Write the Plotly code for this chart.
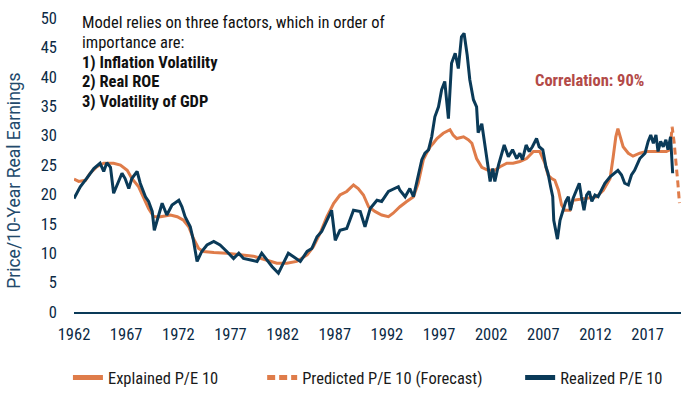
import plotly.graph_objects as go

# ---------------- data ----------------
realized_year = [
    1962.0, 1962.6, 1963.25, 1963.9, 1964.5, 1964.85, 1965.15, 1965.5, 1965.8, 1966.3,
    1966.6, 1966.9, 1967.25, 1967.55, 1968.05, 1968.35, 1968.85, 1969.15, 1969.5, 1969.7,
    1970.1, 1970.45, 1970.9, 1971.4, 1972.05, 1972.35, 1972.65, 1973.15, 1973.45, 1973.8,
    1974.25, 1974.75, 1975.4, 1976.0, 1976.65, 1977.3, 1977.8, 1978.25, 1979.05, 1979.55,
    1980.0, 1980.5, 1981.0, 1981.6, 1982.1, 1982.55, 1983.05, 1983.7, 1984.35, 1984.8,
    1985.3, 1985.75, 1986.25, 1986.7, 1987.05, 1987.5, 1988.15, 1988.8, 1989.45, 1989.9,
    1990.4, 1991.05, 1991.5, 1992.15, 1993.1, 1993.25, 1993.75, 1994.2, 1994.55, 1995.0,
    1995.35, 1995.65, 1996.0, 1996.3, 1996.6, 1996.95, 1997.25, 1997.55, 1997.9, 1998.2,
    1998.55, 1998.85, 1999.15, 1999.4, 1999.7, 1999.95, 2000.3, 2000.6, 2000.75, 2001.1,
    2001.4, 2001.7, 2001.9, 2002.15, 2002.35, 2002.7, 2003.25, 2003.65, 2004.05, 2004.45,
    2004.75, 2005.0, 2005.35, 2005.65, 2005.95, 2006.35, 2006.6, 2006.95, 2007.25, 2007.45,
    2007.7, 2007.9, 2008.0, 2008.2, 2008.35, 2008.6, 2008.85, 2009.15, 2009.4, 2009.6,
    2009.85, 2010.2, 2010.45, 2010.65, 2010.9, 2011.15, 2011.4, 2011.65, 2011.95, 2012.25,
    2012.6, 2012.9, 2013.4, 2013.85, 2014.15, 2014.5, 2014.8, 2015.15, 2015.45, 2015.75,
    2016.25, 2016.75, 2017.05, 2017.3, 2017.55, 2017.8, 2018.0, 2018.25, 2018.5, 2018.75,
    2018.95, 2019.2, 2019.4,
]
realized_pe = [
    19.3, 21.3, 22.8, 24.4, 25.3, 23.9, 25.4, 24.6, 20.2, 22.2,
    23.6, 22.7, 21.0, 22.7, 23.9, 21.9, 19.6, 18.8, 17.1, 13.9,
    16.2, 18.5, 16.5, 18.2, 19.0, 17.9, 16.2, 14.5, 12.2, 8.6,
    10.3, 11.4, 12.0, 11.4, 10.3, 9.1, 10.0, 9.1, 8.8, 8.6,
    10.0, 8.8, 7.7, 6.6, 8.3, 10.0, 9.4, 8.6, 10.3, 10.8,
    12.8, 13.7, 15.6, 17.3, 12.2, 13.9, 14.2, 17.3, 17.1, 14.5,
    17.6, 19.0, 18.8, 20.5, 21.3, 20.7, 19.6, 21.0, 19.6, 23.0,
    25.9, 27.0, 27.6, 29.8, 33.2, 34.9, 37.8, 39.2, 32.9, 42.3,
    44.0, 41.4, 46.8, 47.4, 43.7, 39.5, 36.1, 34.9, 30.5, 32.0,
    28.7, 24.7, 22.2, 24.4, 22.2, 25.0, 28.4, 26.4, 27.6, 26.1,
    27.0, 25.9, 28.4, 27.3, 28.1, 29.5, 28.1, 27.6, 24.7, 23.6,
    21.3, 19.6, 15.6, 13.4, 12.4, 15.6, 17.1, 18.8, 19.6, 17.3,
    19.3, 20.7, 21.9, 19.6, 17.3, 19.9, 20.5, 18.8, 19.9, 19.6,
    21.0, 21.9, 23.0, 23.6, 24.1, 23.3, 21.9, 21.6, 23.3, 24.1,
    26.1, 27.0, 29.0, 30.1, 28.7, 30.1, 27.3, 29.0, 28.1, 29.3,
    27.6, 29.8, 23.6,
]

explained_year = [
    1962.0, 1962.45, 1963.1, 1963.55, 1964.2, 1964.85, 1965.8, 1966.45, 1967.1, 1967.55,
    1968.2, 1968.7, 1969.15, 1969.65, 1970.3, 1971.25, 1971.9, 1972.5, 1973.0, 1973.45,
    1973.95, 1974.4, 1975.4, 1976.65, 1977.95, 1979.2, 1980.5, 1981.45, 1982.4, 1983.35,
    1984.35, 1984.95, 1985.6, 1986.25, 1986.9, 1987.5, 1988.15, 1988.8, 1989.25, 1989.75,
    1990.25, 1990.85, 1991.5, 1992.15, 1992.6, 1993.25, 1993.9, 1994.55, 1995.0, 1995.2,
    1995.5, 1995.8, 1996.15, 1996.45, 1996.8, 1997.4, 1997.9, 1998.05, 1998.35, 1998.7,
    1999.35, 1999.8, 2000.15, 2000.6, 2001.1, 2001.7, 2002.35, 2002.85, 2003.5, 2004.1,
    2004.75, 2005.4, 2006.05, 2006.65, 2007.15, 2007.45, 2007.8, 2008.1, 2008.45, 2008.75,
    2009.05, 2009.55, 2009.85, 2010.8, 2012.1, 2012.75, 2013.4, 2013.7, 2013.95, 2014.15,
    2014.4, 2014.65, 2015.15, 2015.6, 2016.25, 2016.9, 2017.85, 2018.8, 2019.15,
]
explained_pe = [
    22.6, 22.2, 22.4, 23.6, 24.7, 25.3, 25.3, 25.0, 24.1, 22.7,
    21.3, 19.3, 17.6, 16.2, 16.2, 16.5, 16.2, 15.6, 14.5, 12.5,
    10.8, 10.3, 10.1, 10.0, 9.7, 9.5, 8.8, 8.3, 8.3, 8.6,
    9.7, 11.1, 13.4, 16.2, 18.5, 19.9, 20.5, 21.6, 21.0, 19.9,
    17.9, 17.1, 16.5, 16.2, 16.8, 17.9, 18.8, 19.6, 21.9, 23.6,
    25.9, 27.0, 28.1, 28.7, 29.5, 30.4, 30.9, 31.0, 30.1, 29.5,
    29.8, 29.3, 28.7, 26.1, 24.6, 24.1, 24.1, 24.7, 25.3, 25.3,
    25.6, 26.1, 27.3, 27.3, 25.3, 23.3, 22.7, 22.4, 20.7, 18.2,
    17.3, 17.3, 19.0, 19.3, 19.6, 20.7, 22.7, 26.4, 29.8, 31.2,
    29.8, 28.1, 27.0, 26.5, 27.0, 27.3, 27.3, 27.3, 27.6,
]

forecast_year = [2019.15, 2019.35, 2019.55, 2019.75, 2019.9, 2020.05]
forecast_pe = [27.6, 31.5, 28.7, 25.3, 21.9, 18.5]

tick_years = [1962, 1967, 1972, 1977, 1982, 1987, 1992, 1997, 2002, 2007, 2012, 2017]
tick_labels = [str(y) for y in tick_years]

series_names = ["Explained P/E 10", "Predicted P/E 10 (Forecast)", "Realized P/E 10"]

note_lines = [
    "Model relies on three factors, which in order of",
    "importance are:",
    "<b>1) Inflation Volatility</b>",
    "<b>2) Real ROE</b>",
    "<b>3) Volatility of GDP</b>",
]

# ---------------- styling ----------------
ORANGE = "#DF7C4A"
NAVY = "#0A3A58"
FONT = "Liberation Sans Narrow, Roboto Condensed, Roboto, sans-serif"
TITLE_FONT = "Roboto, sans-serif"

fig = go.Figure()
fig.add_trace(go.Scatter(x=explained_year, y=explained_pe, mode="lines",
                         name=series_names[0], showlegend=False,
                         line=dict(color=ORANGE, width=3)))
fig.add_trace(go.Scatter(x=forecast_year, y=forecast_pe, mode="lines",
                         name=series_names[1], showlegend=False,
                         line=dict(color=ORANGE, width=3, dash="7px,4px")))
fig.add_trace(go.Scatter(x=realized_year, y=realized_pe, mode="lines",
                         name=series_names[2], showlegend=False,
                         line=dict(color=NAVY, width=3)))

# legend entries (thicker swatches, as in the reference)
legend_styles = [
    ("legend", dict(color=ORANGE, width=5)),
    ("legend2", dict(color=ORANGE, width=5, dash="8px,4px")),
    ("legend3", dict(color=NAVY, width=5)),
]
for name, (leg, ln) in zip(series_names, legend_styles):
    fig.add_trace(go.Scatter(x=[None], y=[None], mode="lines", name=name,
                             legend=leg, line=ln, showlegend=True))

leg_common = dict(orientation="h", yanchor="middle", y=-0.224, xanchor="left",
                  font=dict(family=FONT, size=16.5, color="#1a1a1a"),
                  bgcolor="rgba(0,0,0,0)", borderwidth=0)

annotations = [
    dict(text="Price/10-Year Real Earnings", textangle=-90, xref="paper", yref="paper",
         x=-0.099, y=0.446, xanchor="center", yanchor="middle", showarrow=False,
         font=dict(family=TITLE_FONT, size=17.5, color="#234a6c")),
    dict(text="<b>Correlation: 90%</b>", xref="paper", yref="paper", x=0.850, y=0.786,
         xanchor="center", yanchor="middle", showarrow=False,
         font=dict(family=FONT, size=16.5, color="#B34A48")),
]
note_y = [0.986, 0.918, 0.850, 0.784, 0.716]
for txt, yy in zip(note_lines, note_y):
    annotations.append(dict(text=txt, xref="paper", yref="paper", x=0.010, y=yy,
                            xanchor="left", yanchor="middle", align="left",
                            showarrow=False,
                            font=dict(family=FONT, size=16.5, color="#111111")))

fig.update_layout(
    width=694, height=395,
    margin=dict(l=74, r=13, t=18, b=83, autoexpand=False),
    paper_bgcolor="white", plot_bgcolor="white",
    font=dict(family=FONT, size=16, color="#0b2a45"),
    showlegend=True,
    legend=dict(x=-0.010, **leg_common),
    legend2=dict(x=0.310, **leg_common),
    legend3=dict(x=0.735, **leg_common),
    xaxis=dict(range=[1962, 2020.2], tickvals=tick_years, ticktext=tick_labels,
               showgrid=False, zeroline=False, showline=True, linecolor=NAVY,
               linewidth=1.5, ticks="", ticklabelstandoff=6,
               tickfont=dict(family=FONT, size=16.5, color="#0b2a45")),
    yaxis=dict(range=[0, 50], dtick=5, tick0=0, showgrid=False, zeroline=False,
               showline=False, ticks="", ticklabelstandoff=16,
               tickfont=dict(family=FONT, size=16.5, color="#0b2a45")),
    annotations=annotations,
)

fig.write_html("out.html", config={"displayModeBar": False},
               post_script="document.body.style.margin='0';document.body.style.padding='0';")
